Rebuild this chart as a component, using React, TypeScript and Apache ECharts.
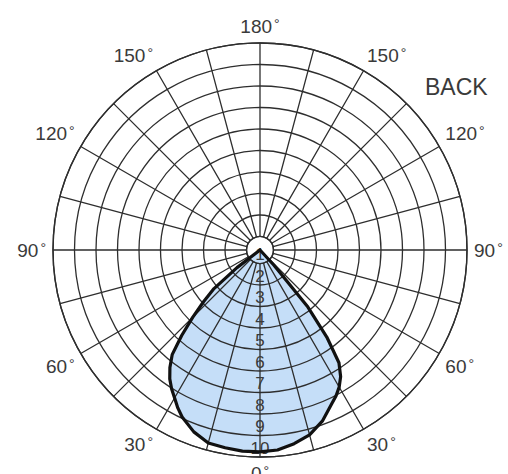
import React, { useEffect, useRef } from 'react';
import * as echarts from 'echarts';

// Angles (degrees from nadir) at which the intensity curve was read
const ANGLES = [0, 5, 10, 15, 20, 25, 27.5, 30, 32.5, 35, 37.5, 40, 42.5, 45, 47.5, 50, 52.5, 55, 60, 70, 80, 90, 100, 110, 120, 130, 140, 150, 160, 170, 180];
// Intensity on the left half of the diagram (ring units)
const LEFT_PLANE = [9.75, 9.75, 9.7, 9.65, 9.35, 8.9, 8.6, 8.25, 7.95, 7.6, 7.15, 6.6, 5.6, 4.6, 3.7, 2.9, 1.4, 0, 0, 0, 0, 0, 0, 0, 0, 0, 0, 0, 0, 0, 0];
// Intensity on the right half of the diagram (ring units)
const RIGHT_PLANE = [9.75, 9.7, 9.5, 9.25, 8.8, 8.2, 7.95, 7.65, 7.25, 6.65, 5.3, 3.6, 1.0, 0, 0, 0, 0, 0, 0, 0, 0, 0, 0, 0, 0, 0, 0, 0, 0, 0, 0];

const RING_MIN = 1;
const RING_MAX = 10;
const SPOKE_STEP = 15;
const ANGLE_LABEL_STEP = 30;
const CORNER_TEXT = 'BACK';

const FONT = '"Liberation Sans", Arial, Helvetica, sans-serif';

export default function App() {
  const ref = useRef<HTMLDivElement>(null);

  useEffect(() => {
    if (!ref.current) return;
    const chart = echarts.init(ref.current, null, { renderer: 'svg' });

    const loop: number[][] = [];
    ANGLES.forEach((a, i) => loop.push([LEFT_PLANE[i], a]));
    for (let i = ANGLES.length - 1; i >= 0; i--) loop.push([RIGHT_PLANE[i], 360 - ANGLES[i]]);

    const gridColor = '#2e2e2e';
    const textColor = '#3a3a3a';

    const option: any = {
      animation: false,
      backgroundColor: '#ffffff',
      polar: [
        { center: [260, 250], radius: [0, 207] },
        { center: [260, 250], radius: [13.5, 207] },
      ],
      angleAxis: [
        { polarIndex: 0, type: 'value', min: 0, max: 360, startAngle: 270, clockwise: true, show: false },
        {
          polarIndex: 1,
          type: 'value',
          min: 0,
          max: 360,
          interval: SPOKE_STEP,
          startAngle: 270,
          clockwise: true,
          z: 3,
          axisLine: { show: true, lineStyle: { color: gridColor, width: 1.4 } },
          axisTick: { show: false },
          splitLine: { show: true, lineStyle: { color: gridColor, width: 1.3 } },
          axisLabel: {
            margin: 7,
            color: textColor,
            fontSize: 19,
            fontFamily: FONT,
            formatter: (v: number) => {
              if (v % ANGLE_LABEL_STEP !== 0 || v >= 360) return '';
              const shown = v <= 180 ? v : 360 - v;
              return `{n|${shown}}{d|°}`;
            },
            rich: {
              n: { fontSize: 19, color: textColor, fontFamily: FONT },
              d: { fontSize: 14, color: textColor, fontFamily: FONT, verticalAlign: 'top', padding: [0, 0, 0, 2] },
            },
          },
        },
      ],
      radiusAxis: [
        { polarIndex: 0, type: 'value', min: 0, max: 10, show: false },
        {
          polarIndex: 1,
          type: 'value',
          min: RING_MIN,
          max: RING_MAX,
          interval: 1,
          z: 3,
          axisLine: { show: false },
          axisTick: { show: false },
          splitLine: { show: true, lineStyle: { color: gridColor, width: 1.3 } },
          axisLabel: {
            show: true,
            showMinLabel: true,
            showMaxLabel: true,
            margin: 0,
            align: 'center',
            verticalAlign: 'bottom',
            fontSize: 17,
            lineHeight: 18,
            color: textColor,
            fontFamily: FONT,
          },
        },
      ],
      series: [
        {
          type: 'line',
          coordinateSystem: 'polar',
          polarIndex: 0,
          data: loop,
          symbol: 'none',
          z: 1,
          lineStyle: { width: 0, opacity: 0 },
          areaStyle: { color: '#c5def8', opacity: 1 },
          silent: true,
        },
        {
          type: 'line',
          coordinateSystem: 'polar',
          polarIndex: 0,
          data: loop,
          symbol: 'none',
          z: 5,
          lineStyle: { width: 3.2, color: '#111111', join: 'round' },
          silent: true,
        },
      ],
      graphic: [
        {
          type: 'text',
          left: 425,
          top: 75,
          style: { text: CORNER_TEXT, fontSize: 23, fill: textColor, fontFamily: FONT },
        },
      ],
    };

    chart.setOption(option);
    return () => chart.dispose();
  }, []);

  return (
    <div
      ref={ref}
      style={{ position: 'absolute', left: 0, top: 0, width: 508, height: 474, background: '#fff' }}
    />
  );
}
